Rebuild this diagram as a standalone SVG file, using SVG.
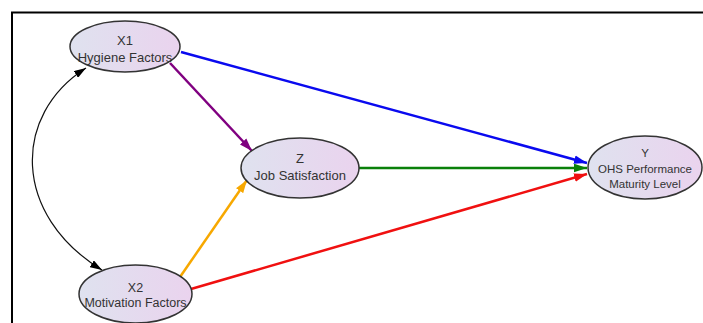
<svg xmlns="http://www.w3.org/2000/svg" width="703" height="323" viewBox="0 0 703 323">
<defs>
<linearGradient id="nodeFill" x1="0" y1="0" x2="1" y2="0">
<stop offset="0" stop-color="#dfe2ef"/>
<stop offset="1" stop-color="#ead3ee"/>
</linearGradient>
<marker id="ahBlue" viewBox="0 0 12 8" refX="12" refY="4" markerWidth="13" markerHeight="9" markerUnits="userSpaceOnUse" orient="auto"><path d="M0 0 L12 4 L0 8 Z" fill="#0a0aef"/></marker>
<marker id="ahPurple" viewBox="0 0 12 8" refX="12" refY="4" markerWidth="13" markerHeight="9" markerUnits="userSpaceOnUse" orient="auto"><path d="M0 0 L12 4 L0 8 Z" fill="#800080"/></marker>
<marker id="ahGreen" viewBox="0 0 12 8" refX="12" refY="4" markerWidth="13" markerHeight="9" markerUnits="userSpaceOnUse" orient="auto"><path d="M0 0 L12 4 L0 8 Z" fill="#0a800a"/></marker>
<marker id="ahOrange" viewBox="0 0 12 8" refX="12" refY="4" markerWidth="13" markerHeight="9" markerUnits="userSpaceOnUse" orient="auto"><path d="M0 0 L12 4 L0 8 Z" fill="#f7a800"/></marker>
<marker id="ahRed" viewBox="0 0 12 8" refX="12" refY="4" markerWidth="13" markerHeight="9" markerUnits="userSpaceOnUse" orient="auto"><path d="M0 0 L12 4 L0 8 Z" fill="#f01010"/></marker>
<marker id="ahBlack" viewBox="0 0 12 8" refX="12" refY="4" markerWidth="12" markerHeight="8" markerUnits="userSpaceOnUse" orient="auto-start-reverse"><path d="M0 0 L12 4 L0 8 Z" fill="#000"/></marker>
</defs>
<style>
.node ellipse { fill: url(#nodeFill); stroke: #333; stroke-width: 1.5; }
.node text { font-family: "Liberation Sans", Arial, sans-serif; fill: #333; text-anchor: middle; }
.edge { fill: none; stroke-width: 2.5; }
.curve { fill: none; stroke: #111; stroke-width: 1.2; }
</style>
<rect width="703" height="323" fill="#fff"/>
<path d="M12 323 V12.5 H703" fill="none" stroke="#000" stroke-width="2"/>
<g id="connectors">
<path class="curve" d="M86 68 C12 115, 12 215, 102 270" marker-start="url(#ahBlack)" marker-end="url(#ahBlack)"/>
<path class="edge" d="M181 52 L587 163" stroke="#0a0aef" marker-end="url(#ahBlue)"/>
<path class="edge" d="M170 63 L252 151" stroke="#800080" marker-end="url(#ahPurple)"/>
<path class="edge" d="M359 168 L587 168" stroke="#0a800a" marker-end="url(#ahGreen)"/>
<path class="edge" d="M180 277 L247 180" stroke="#f7a800" marker-end="url(#ahOrange)"/>
<path class="edge" d="M191 289 L587 174" stroke="#f01010" marker-end="url(#ahRed)"/>
</g>
<g id="X1" class="node">
<ellipse cx="125" cy="46.5" rx="55" ry="25.5"/>
<text x="125" y="45" font-size="13">X1</text>
<text x="125" y="62" font-size="13">Hygiene Factors</text>
</g>
<g id="Z" class="node">
<ellipse cx="300" cy="168" rx="59" ry="30"/>
<text x="300" y="163" font-size="13">Z</text>
<text x="300" y="180" font-size="13">Job Satisfaction</text>
</g>
<g id="Y" class="node">
<ellipse cx="645" cy="167.5" rx="57" ry="31.5"/>
<text x="645" y="157" font-size="11.5">Y</text>
<text x="645" y="173" font-size="11.5">OHS Performance</text>
<text x="645" y="188" font-size="11.5">Maturity Level</text>
</g>
<g id="X2" class="node">
<ellipse cx="135.5" cy="294" rx="56.5" ry="29"/>
<text x="135.5" y="292" font-size="12.5">X2</text>
<text x="135.5" y="307" font-size="12.5">Motivation Factors</text>
</g>
</svg>
